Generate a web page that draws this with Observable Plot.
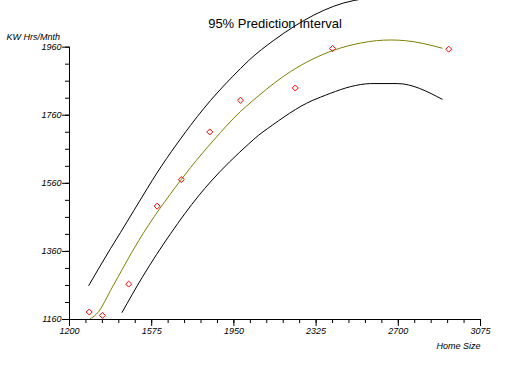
<!DOCTYPE html>
<html>
<head>
<meta charset="utf-8">
<script src="https://cdn.jsdelivr.net/npm/d3@7"></script>
<script src="https://cdn.jsdelivr.net/npm/@observablehq/plot@0.6"></script>
<style>
  html, body { margin: 0; padding: 0; background: #fff; }
  #chart { width: 517px; height: 365px; overflow: hidden; }
</style>
</head>
<body>
<div id="chart"></div>
<script>
// Observed data
const homeSize = [1290, 1350, 1470, 1600, 1710, 1840, 1980, 2230, 2400, 2930];
const kwHrs    = [1182, 1172, 1264, 1493, 1571, 1711, 1804, 1840, 1956, 1954];

// Fitted curve
const fitX = [1291, 1334, 1387, 1516, 1706, 1752, 1858, 1980, 2033, 2064, 2208, 2406, 2528, 2600, 2665, 2733, 2900];
const fitY = [1160, 1184, 1245, 1392, 1568, 1606, 1687, 1771, 1801, 1818, 1888, 1951, 1972, 1979, 1981, 1979, 1957];

// Upper prediction limit
const upperX = [1288, 1387, 1433, 1554, 1577, 1752, 1783, 1843, 1980, 2018, 2132, 2497, 2700, 2900];
const upperY = [1260, 1368, 1416, 1544, 1568, 1730, 1756, 1803, 1897, 1921, 1980, 2097, 2110, 2108];

// Lower prediction limit
const lowerX = [1440, 1532, 1661, 1790, 1843, 2018, 2064, 2102, 2307, 2345, 2528, 2573, 2695, 2900];
const lowerY = [1181, 1284, 1412, 1524, 1564, 1676, 1702, 1720, 1803, 1813, 1850, 1853, 1853, 1807];

// Axis ticks and labels
const xTicks = [1200, 1575, 1950, 2325, 2700, 3075];
const yTicks = [1160, 1360, 1560, 1760, 1960];
const xMinorStep = 75;
const yMinorStep = 50;
const titleText = "95% Prediction Interval";
const yLabel = "KW Hrs/Mnth";
const xLabel = "Home Size";

const points = homeSize.map((x, i) => ({x, y: kwHrs[i]}));
const fit = fitX.map((x, i) => ({x, y: fitY[i]}));
const upper = upperX.map((x, i) => ({x, y: upperY[i]}));
const lower = lowerX.map((x, i) => ({x, y: lowerY[i]}));
const xMinor = d3.range(xTicks[0], xTicks[xTicks.length - 1] + 1, xMinorStep);
const yMinor = d3.range(yTicks[0], yTicks[yTicks.length - 1] + 1, yMinorStep);

const chart = Plot.plot({
  width: 517,
  height: 365,
  marginLeft: 69,
  marginRight: 37,
  marginTop: 0,
  marginBottom: 46,
  style: {
    fontFamily: "'Liberation Sans', Arial, sans-serif",
    fontSize: "9px",
    fontStyle: "italic",
    background: "#fff",
    color: "#000",
    overflow: "hidden"
  },
  x: {domain: [1200, 3075]},
  y: {domain: [1160, 2097]},
  marks: [
    Plot.axisX({ticks: xMinor, tickSize: 4, tickFormat: () => "", label: null, stroke: "#000"}),
    Plot.axisX({ticks: xTicks, tickSize: 7, tickPadding: 1, tickFormat: "d", label: null, stroke: "#000", fill: "#000"}),
    Plot.axisY({ticks: yMinor, tickSize: 4, tickFormat: () => "", label: null, stroke: "#000"}),
    Plot.axisY({ticks: yTicks, tickSize: 7, tickPadding: 1, tickFormat: "d", label: null, stroke: "#000", fill: "#000"}),
    Plot.ruleX([xTicks[0]], {y1: yTicks[0], y2: yTicks[yTicks.length - 1], stroke: "#000"}),
    Plot.ruleY([yTicks[0]], {x1: xTicks[0], x2: xTicks[xTicks.length - 1], stroke: "#000"}),
    Plot.line(upper, {x: "x", y: "y", stroke: "#000", strokeWidth: 1, curve: "monotone-x", clip: true}),
    Plot.line(lower, {x: "x", y: "y", stroke: "#000", strokeWidth: 1, curve: "monotone-x", clip: true}),
    Plot.line(fit, {x: "x", y: "y", stroke: "#808000", strokeWidth: 1, curve: "monotone-x", clip: true}),
    Plot.dot(points, {x: "x", y: "y", symbol: "diamond2", r: 2.7, stroke: "#ff0000", fill: "none", strokeWidth: 1}),
    Plot.text([titleText], {text: d => d, frameAnchor: "top", dy: 18, fontSize: 13, fontStyle: "normal", fill: "#000"}),
    Plot.text([yLabel], {text: d => d, frameAnchor: "top-left", textAnchor: "start", dx: -63, dy: 33, fill: "#000"}),
    Plot.text([xLabel], {text: d => d, frameAnchor: "bottom-right", textAnchor: "end", dy: 29.5, fill: "#000"})
  ]
});
document.getElementById("chart").appendChild(chart);
</script>
</body>
</html>
